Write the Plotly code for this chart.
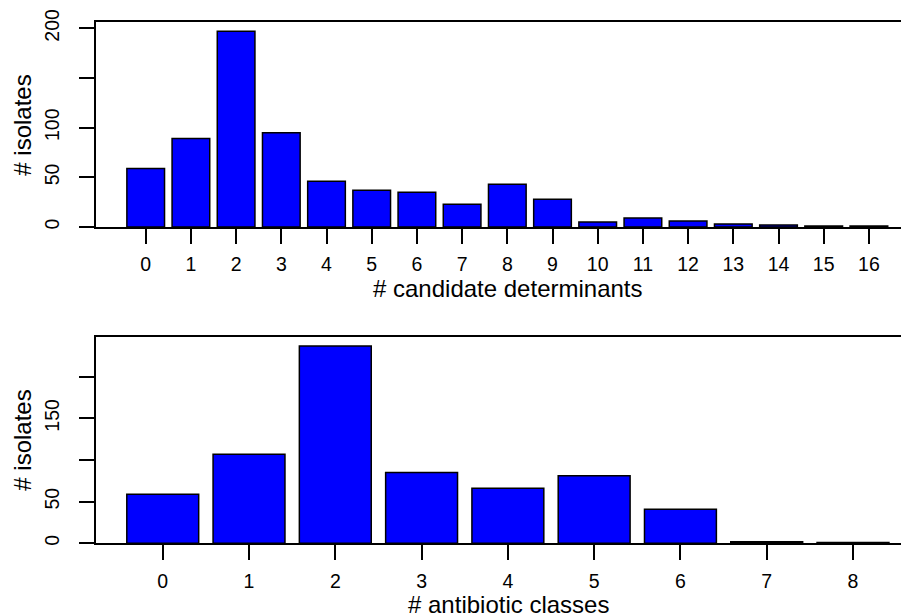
import plotly.graph_objects as go

# ---- data ----
det_labels = ["0", "1", "2", "3", "4", "5", "6", "7", "8", "9", "10",
              "11", "12", "13", "14", "15", "16"]
det_counts = [59, 89, 197, 95, 46, 37, 35, 23, 43, 28, 5, 9, 6, 3, 2, 1, 1]

cls_labels = ["0", "1", "2", "3", "4", "5", "6", "7", "8"]
cls_counts = [59, 107, 237, 85, 66, 81, 41, 2, 1]

top_ytick_vals = [0, 50, 100, 150, 200]
top_ytick_text = ["0", "50", "100", "", "200"]
bot_ytick_vals = [0, 50, 100, 150, 200]
bot_ytick_text = ["0", "50", "", "150", ""]

x_title_top = "# candidate determinants"
x_title_bot = "# antibiotic classes"
y_title = "# isolates"

# ---- style ----
FONT = "Liberation Sans, Arial, Helvetica, sans-serif"
OFF = 8                      # page body margin of the html file
W, H = 909 - OFF, 616 - OFF
BAR_W = 1 / 1.2
bar_style = dict(color="#0000FF", line=dict(color="black", width=1.5))

def py(page_y):              # page pixel row -> paper fraction
    return (H - (page_y - OFF)) / H

def px(page_x):              # page pixel column -> paper fraction
    return (page_x - OFF) / W

fig = go.Figure()
fig.add_trace(go.Bar(x=det_labels, y=det_counts, width=BAR_W, marker=bar_style,
                     xaxis="x", yaxis="y", showlegend=False))
fig.add_trace(go.Bar(x=cls_labels, y=cls_counts, width=BAR_W, marker=bar_style,
                     xaxis="x2", yaxis="y2", showlegend=False))

def xax(rng, anchor):
    return dict(domain=[px(96.3), 1], range=rng, type="category", anchor=anchor,
                automargin=False,
                showline=True, mirror=True, linecolor="black", linewidth=2,
                ticks="outside", ticklen=15, tickwidth=2, tickcolor="black",
                tickfont=dict(family=FONT, size=19.5, color="black"),
                ticklabelstandoff=4, showgrid=False, zeroline=False, fixedrange=True)

def yax(dom, rng, vals, text, anchor):
    return dict(domain=dom, range=rng, anchor=anchor, tickmode="array",
                automargin=False,
                tickvals=vals, ticktext=text, tickangle=-90,
                showline=True, mirror=False, linecolor="black", linewidth=2,
                ticks="outside", ticklen=15, tickwidth=2, tickcolor="black",
                tickfont=dict(family=FONT, size=19.5, color="black"),
                ticklabelstandoff=13, showgrid=False, zeroline=False, fixedrange=True)

fig.update_layout(
    width=W, height=H,
    margin=dict(l=0, r=0, t=0, b=0, autoexpand=False),
    paper_bgcolor="white", plot_bgcolor="white",
    xaxis=xax([-1.093, 16.887], "y"),
    yaxis=yax([py(227), py(21.7)], [0, 206.7],
              top_ytick_vals, top_ytick_text, "x"),
    xaxis2=xax([-0.77, 8.649], "y2"),
    yaxis2=yax([py(543.3), py(337.3)], [0, 247.3],
               bot_ytick_vals, bot_ytick_text, "x2"),
)

title_font = dict(family=FONT, size=24, color="black")
fig.add_annotation(text=x_title_top, xref="paper", yref="paper", x=px(508.4),
                   y=py(288), xanchor="center", yanchor="middle",
                   showarrow=False, font=title_font)
fig.add_annotation(text=x_title_bot, xref="paper", yref="paper", x=px(508.4),
                   y=py(604.3), xanchor="center", yanchor="middle",
                   showarrow=False, font=title_font)
fig.add_annotation(text=y_title, xref="paper", yref="paper", x=px(21.7),
                   y=py(125), xanchor="center", yanchor="middle",
                   textangle=-90, showarrow=False, font=title_font)
fig.add_annotation(text=y_title, xref="paper", yref="paper", x=px(21.7),
                   y=py(440), xanchor="center", yanchor="middle",
                   textangle=-90, showarrow=False, font=title_font)

fig.write_html("out.html")
